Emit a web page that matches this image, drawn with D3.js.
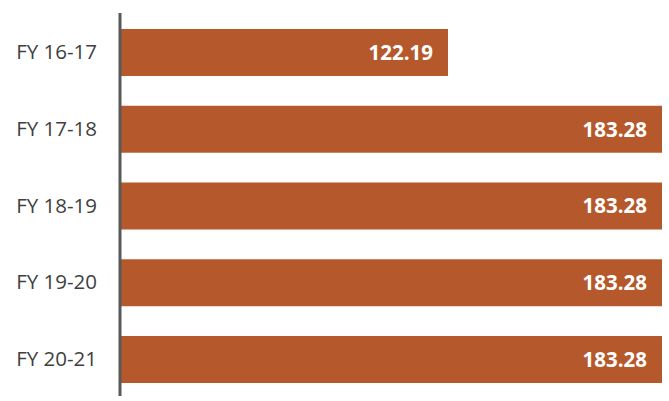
<!DOCTYPE html>
<html>
<head>
<meta charset="utf-8">
<script src="https://cdn.jsdelivr.net/npm/d3@7"></script>
<style>
  html, body { margin: 0; padding: 0; background: #ffffff; }
  svg { display: block; }
</style>
</head>
<body>
<svg id="chart" width="669" height="401"></svg>
<script>
const categories = ["FY 16-17", "FY 17-18", "FY 18-19", "FY 19-20", "FY 20-21"];
const values = [122.19, 183.28, 183.28, 183.28, 183.28];
const valueLabels = ["122.19", "183.28", "183.28", "183.28", "183.28"];
const axisMin = 28.85;
const axisMax = 183.28;

const svg = d3.select("#chart");
const axisX = 120;

const x = d3.scaleLinear().domain([axisMin, axisMax]).range([axisX + 1, 662]);

const pad = 0.388;
const step = 76.75;
const yb = d3.scaleBand().domain(categories)
  .range([29 - pad * step, 383 + pad * step])
  .paddingInner(pad).paddingOuter(pad);

const g = svg.append("g");

g.selectAll("rect.bar")
  .data(categories)
  .join("rect")
  .attr("class", "bar")
  .attr("x", x(axisMin))
  .attr("y", d => yb(d))
  .attr("width", (d, i) => x(values[i]) - x(axisMin))
  .attr("height", yb.bandwidth())
  .attr("fill", "#B5582B");

g.selectAll("text.val")
  .data(categories)
  .join("text")
  .attr("class", "val")
  .attr("x", (d, i) => x(values[i]) - 15)
  .attr("y", d => yb(d) + yb.bandwidth() / 2)
  .attr("dy", "0.36em")
  .attr("text-anchor", "end")
  .attr("fill", "#ffffff")
  .attr("font-family", "'Open Sans', sans-serif")
  .attr("font-weight", "bold")
  .attr("font-size", "20.5px")
  .text((d, i) => valueLabels[i]);

const axis = d3.axisLeft(yb).tickSize(0).tickPadding(23);
const ag = svg.append("g").attr("transform", `translate(${axisX},0)`).call(axis);
ag.select(".domain").remove();
ag.selectAll("text")
  .attr("fill", "#3f3f3f")
  .attr("font-family", "'Open Sans', sans-serif")
  .attr("font-weight", "500")
  .attr("font-size", "20.5px");

svg.append("line")
  .attr("x1", axisX).attr("x2", axisX)
  .attr("y1", 13).attr("y2", 396)
  .attr("stroke", "#595959")
  .attr("stroke-width", 3);
</script>
</body>
</html>
